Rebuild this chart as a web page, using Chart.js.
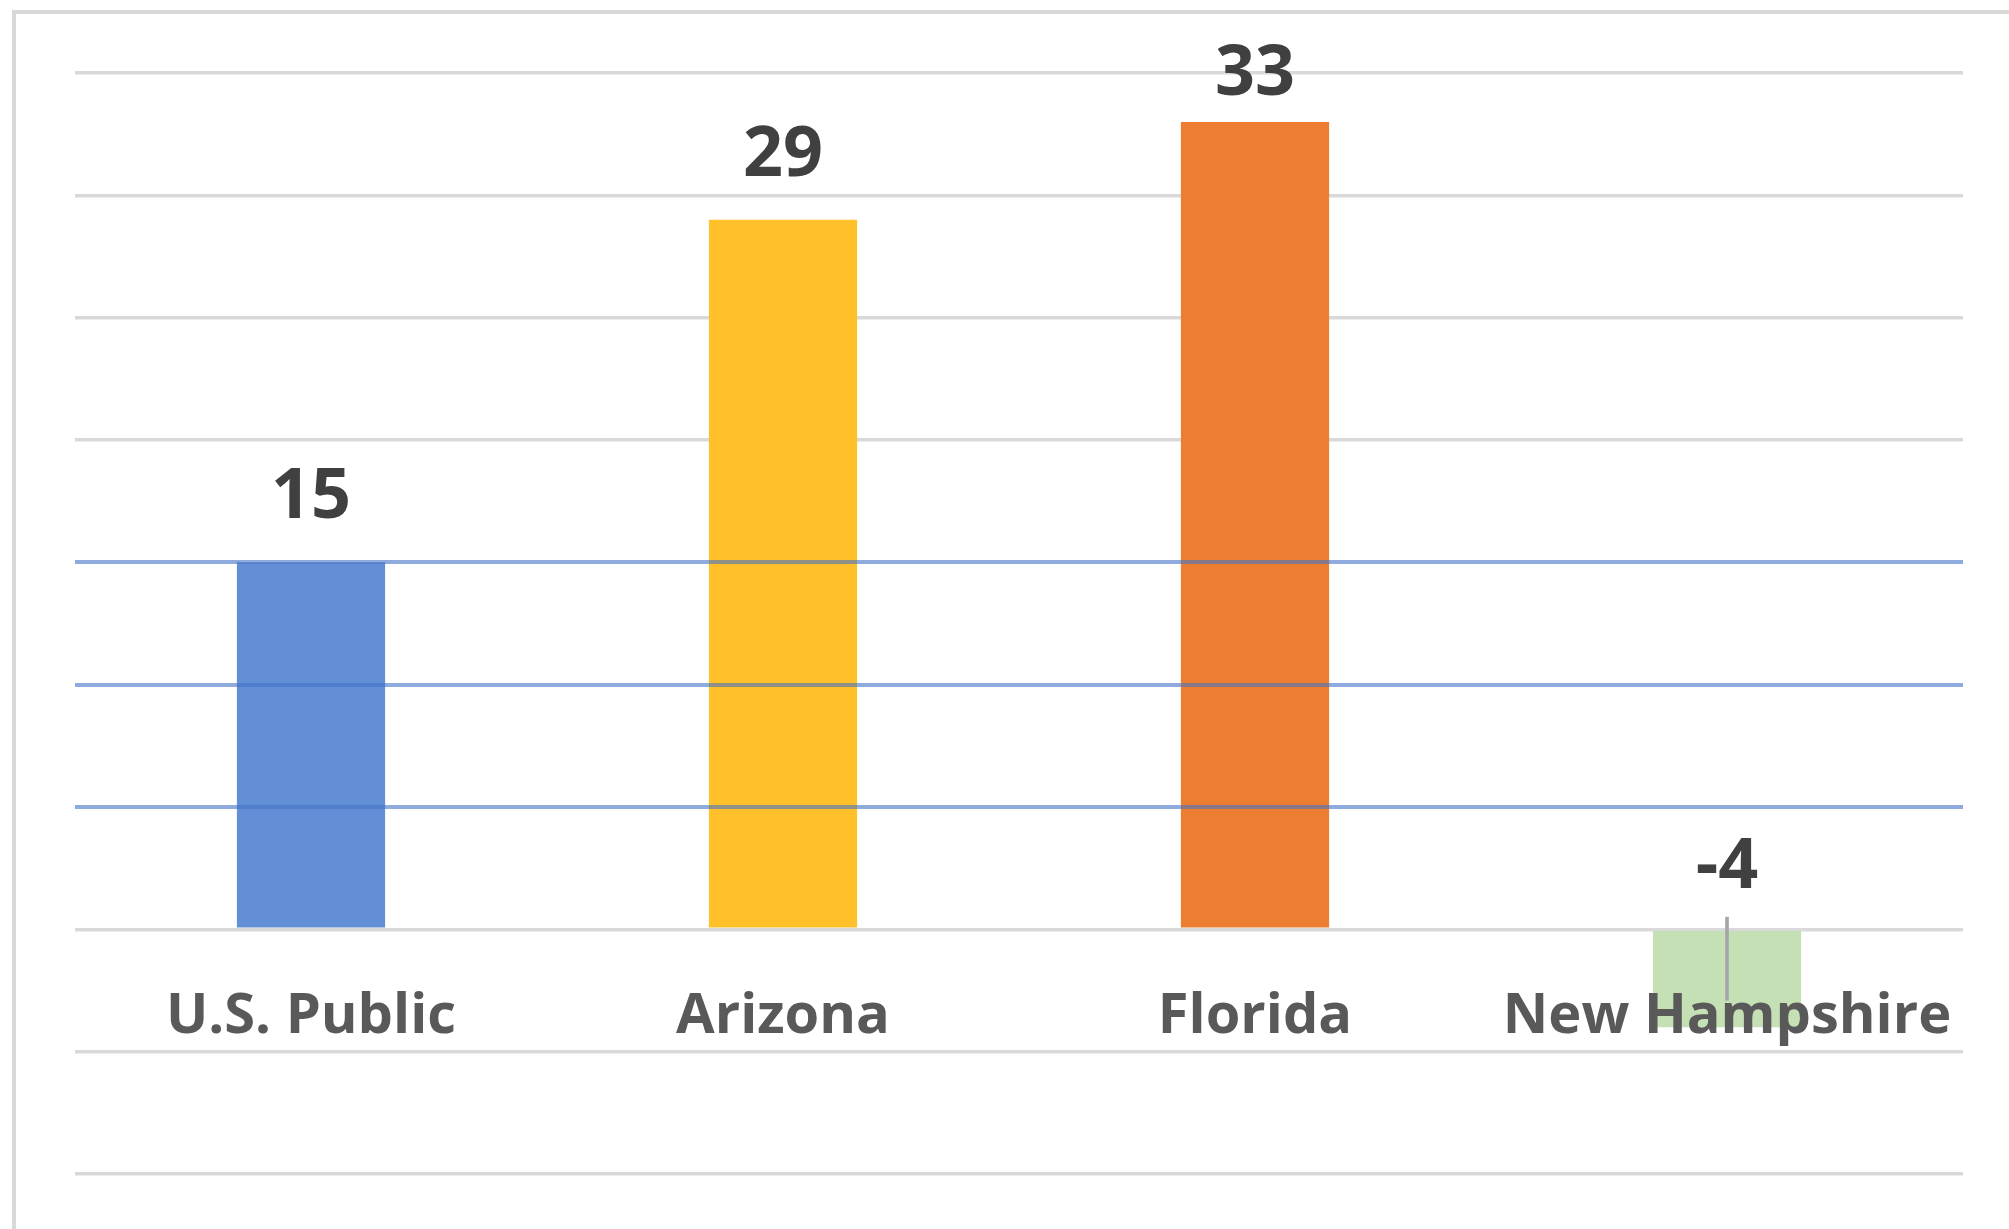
<!DOCTYPE html>
<html>
<head>
<meta charset="utf-8">
<script src="https://cdn.jsdelivr.net/npm/chart.js@4.4.1/dist/chart.umd.min.js"></script>
<style>
  html, body { margin: 0; padding: 0; background: #fff; }
  #wrap { position: relative; width: 2009px; height: 1229px; overflow: hidden; }
  #frame {
    position: absolute; left: 12px; top: 10px; right: -10px; bottom: -10px;
    border-left: 4px solid #d9d9d9; border-top: 4px solid #d9d9d9;
  }
  canvas { position: absolute; left: 0; top: 0; }
</style>
</head>
<body>
<div id="wrap">
  <div id="frame"></div>
  <canvas id="myChart" width="2009" height="1229"></canvas>
</div>
<script>
const labels = ["U.S. Public", "Arizona", "Florida", "New Hampshire"];
const values = [15, 29, 33, -4];
const barColors = ["#628fd6", "#ffc02a", "#ed7d31", "#c5e0b4"];
// thin grey whisker on the New Hampshire bar
const whisker = [null, null, null, [-2.9, 0.5]];
const blueLines = [5, 10, 15];

const yMin = -10;
const yMax = 35;
const yStep = 5;

const valueLabels = {
  id: "valueLabels",
  afterDraw: (chart) => {
    const ctx = chart.ctx;
    const meta = chart.getDatasetMeta(0);
    const y = chart.scales.y;
    ctx.save();
    ctx.font = "700 70px 'Open Sans'";
    ctx.fillStyle = "#404040";
    ctx.textAlign = "center";
    ctx.textBaseline = "alphabetic";
    meta.data.forEach((bar, i) => {
      const top = y.getPixelForValue(Math.max(values[i], 0));
      const gap = values[i] < 0 ? 41 : 44;
      const base = Math.max(top - gap, chart.chartArea.top + 22);
      ctx.fillText(String(values[i]), bar.x, base);
    });
    ctx.restore();
  },
};

const config = {
  type: "bar",
  data: {
    labels: labels,
    datasets: [
      {
        data: values,
        backgroundColor: barColors,
        categoryPercentage: 1,
        barPercentage: 0.314,
        order: 2,
      },
      {
        data: whisker,
        backgroundColor: "#a6a6a6",
        barThickness: 3,
        grouped: false,
        order: 1,
      },
    ],
  },
  options: {
    responsive: false,
    animation: false,
    layout: { padding: { left: 75, right: 46, top: 73, bottom: 55 } },
    plugins: { legend: { display: false }, tooltip: { enabled: false } },
    scales: {
      x: {
        position: { y: 0 },
        grid: { display: false },
        border: { display: false },
        ticks: {
          z: 1,
          padding: 46,
          color: "#595959",
          font: { family: "'Open Sans'", size: 56, weight: "700" },
          maxRotation: 0,
        },
      },
      y: {
        min: yMin,
        max: yMax,
        ticks: { stepSize: yStep, display: false },
        border: { display: false },
        grid: {
          drawTicks: false,
          lineWidth: 3.5,
          color: (c) => (blueLines.includes(c.tick.value) ? "rgba(0,0,0,0)" : "#d9d9d9"),
        },
      },
      y2: {
        position: "left",
        min: yMin,
        max: yMax,
        ticks: { stepSize: yStep, display: false },
        border: { display: false },
        grid: {
          z: 1,
          drawTicks: false,
          lineWidth: 4,
          color: (c) => (blueLines.includes(c.tick.value) ? "rgba(68,114,196,0.6)" : "rgba(0,0,0,0)"),
        },
      },
    },
  },
  plugins: [valueLabels],
};

const chart = new Chart(document.getElementById("myChart").getContext("2d"), config);
</script>
</body>
</html>
